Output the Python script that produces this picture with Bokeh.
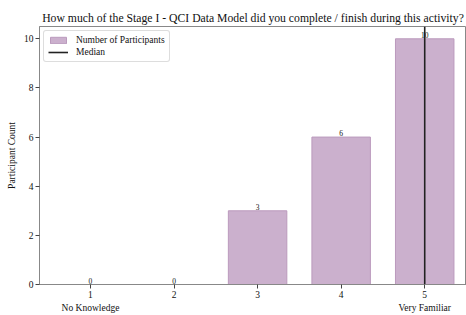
from bokeh.plotting import figure
from bokeh.models import ColumnDataSource, FixedTicker, LinearAxis, Range1d, Legend, LegendItem
from bokeh.core.properties import value
from bokeh.embed import file_html
from bokeh.resources import INLINE

levels = [1, 2, 3, 4, 5]
counts = [0, 0, 3, 6, 10]
median_level = 5
end_labels = {1: "No Knowledge", 5: "Very Familiar"}
title_text = "How much of the Stage I - QCI Data Model did you complete / finish during this activity?"

FONT = "Liberation Serif"
INK = "#111111"

src = ColumnDataSource(dict(x=levels, top=counts, label=[str(c) for c in counts]))

p = figure(width=466, height=315, output_backend="svg", toolbar_location=None,
           x_range=Range1d(0.39, 5.5), y_range=Range1d(0, 10.5),
           min_border_left=39, min_border_right=0, min_border_top=26, min_border_bottom=0)

p.title.text = title_text
p.title.text_font = FONT
p.title.text_font_size = "11.7px"
p.title.text_font_style = "normal"
p.title.text_color = INK
p.title.align = "center"
p.title.standoff = 4

bars = p.vbar(x="x", top="top", width=0.7, source=src, fill_color="#cbb0cd",
              line_color="#bb9abd", line_width=1)
p.text(x="x", y="top", text="label", source=src, text_font=value(FONT), text_color=INK,
       text_font_size="7.5px", text_align="center", text_baseline="bottom", y_offset=-1)

med = p.line(x=[median_level, median_level], y=[0, 10.5], line_color="#222222", line_width=1.6)

legend = Legend(items=[LegendItem(label="Number of Participants", renderers=[bars]),
                       LegendItem(label="Median", renderers=[med])],
                location="top_left", label_text_font=FONT, label_text_font_size="9.5px",
                label_text_color=INK,
                glyph_width=20, glyph_height=8, label_height=9, spacing=2,
                padding=4, margin=4, border_line_color="#bbbbbb",
                border_radius=3, label_standoff=8)
p.add_layout(legend)

p.xgrid.visible = False
p.ygrid.visible = False
p.outline_line_color = "#888888"

p.xaxis.ticker = FixedTicker(ticks=levels)
p.yaxis.ticker = FixedTicker(ticks=[0, 2, 4, 6, 8, 10])
for ax in (p.xaxis[0], p.yaxis[0]):
    ax.axis_line_color = "#888888"
    ax.major_tick_line_color = "#444444"
    ax.major_tick_out = 4
    ax.major_tick_in = 0
    ax.minor_tick_line_color = None
    ax.major_label_text_font = FONT
    ax.major_label_text_font_size = "9.5px"
    ax.major_label_text_color = INK
    ax.major_label_standoff = 2

p.yaxis.axis_label = "Participant Count"
p.yaxis.axis_label_text_font = FONT
p.yaxis.axis_label_text_font_size = "9.5px"
p.yaxis.axis_label_text_font_style = "normal"
p.yaxis.axis_label_text_color = INK
p.yaxis.axis_label_standoff = 4

ax2 = LinearAxis(ticker=FixedTicker(ticks=list(end_labels.keys())),
                 major_label_overrides=end_labels)
ax2.axis_line_color = None
ax2.major_tick_line_color = None
ax2.major_tick_out = 0
ax2.major_tick_in = 0
ax2.minor_tick_line_color = None
ax2.major_label_text_font = FONT
ax2.major_label_text_font_size = "9.5px"
ax2.major_label_text_color = INK
ax2.major_label_standoff = 2
p.add_layout(ax2, "below")

open("out.html", "w").write(file_html(p, INLINE))
